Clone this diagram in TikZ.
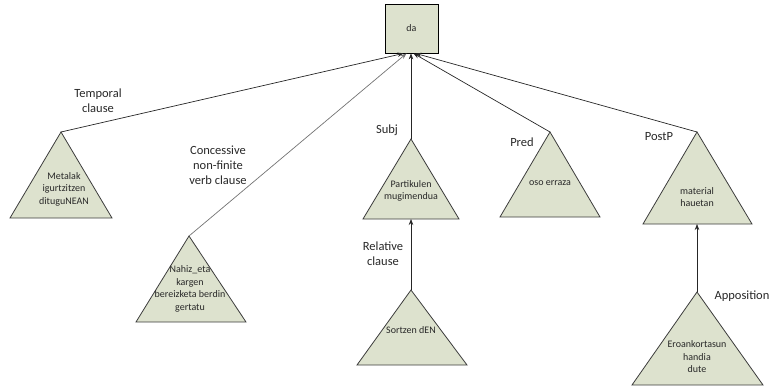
\documentclass[tikz,border=0pt]{standalone}
\usepackage{fontspec}
\setmainfont{Carlito}
\usetikzlibrary{arrows.meta}
\definecolor{sage}{RGB}{221,226,206}
\definecolor{edge}{RGB}{60,60,60}
\definecolor{txt}{RGB}{40,40,40}
\tikzset{
  tribox/.style={draw=edge, fill=sage, line width=0.8pt, line join=miter},
  conn/.style={draw=black!85, line width=0.7pt, -{Stealth[length=6pt,width=4.5pt]}},
  lbl/.style={font=\fontsize{12.5}{15}\selectfont, text=txt, align=center, inner sep=0pt},
  tlbl/.style={font=\fontsize{10}{12.5}\selectfont, text=txt, align=center, inner sep=0pt},
}
\newcommand{\mytri}[6]{%
  \draw[tribox] (#2,#3) -- (#4,#6) -- (#5,#6) -- cycle;
  \coordinate (#1-top) at (#2,#3);
  \coordinate (#1-base) at (#2,#6);
}
\begin{document}
\begin{tikzpicture}[x=1pt,y=-1pt]
\useasboundingbox (0,0) rectangle (774,389);
% root box
\node[draw=black, fill=sage, line width=0.8pt, minimum width=53pt, minimum height=49pt, inner sep=0pt,
  font=\fontsize{10}{12}\selectfont, text=txt] (da) at (411.5,28.5) {da};
% triangles
\mytri{t1}{61}{132}{10}{112}{218}
\mytri{t2}{189}{236}{136}{246}{322}
\mytri{t3}{411}{139}{363}{459}{219}
\mytri{t4}{411}{290}{357}{467}{365}
\mytri{t5}{550}{132}{500}{600}{217}
\mytri{t6}{697}{132}{643}{752}{224}
\mytri{t7}{697}{292}{632}{763}{385}
% triangle texts
\node[tlbl] (x1) at (64,189) {Metalak\\igurtzitzen\\dituguNEAN};
\node[tlbl] (x2) at (190,289) {Nahiz\_eta\\kargen\\bereizketa berdin\\gertatu};
\node[tlbl] (x3) at (411,191) {Partikulen\\mugimendua};
\node[tlbl] (x4) at (411,330) {Sortzen dEN};
\node[tlbl] (x5) at (550,183) {oso erraza};
\node[tlbl] (x6) at (697,197) {material\\hauetan};
\node[tlbl] (x7) at (697,357) {Eroankortasun\\handia\\dute};
% connectors
\draw[conn] (t1-top) -- ([xshift=-8pt]da.south);
\draw[conn, draw=black!55] (t2-top) -- ([xshift=-5pt]da.south);
\draw[conn] (t3-top) -- ([xshift=-0.5pt]da.south);
\draw[conn] (t5-top) -- ([xshift=2pt]da.south);
\draw[conn] (t6-top) -- ([xshift=4pt]da.south);
\draw[conn] (t4-top) -- (t3-base);
\draw[conn] (t7-top) -- (t6-base);
% edge labels
\node[lbl] (l1) at (98,101) {Temporal\\clause};
\node[lbl] (l2) at (218,165) {Concessive\\non-finite\\verb clause};
\node[lbl] (l3) at (387,130) {Subj};
\node[lbl] (l4) at (383,254) {Relative\\clause};
\node[lbl] (l5) at (522,142) {Pred};
\node[lbl] (l6) at (659,137) {PostP};
\node[lbl] (l7) at (742,296) {Apposition};
\end{tikzpicture}
\end{document}
